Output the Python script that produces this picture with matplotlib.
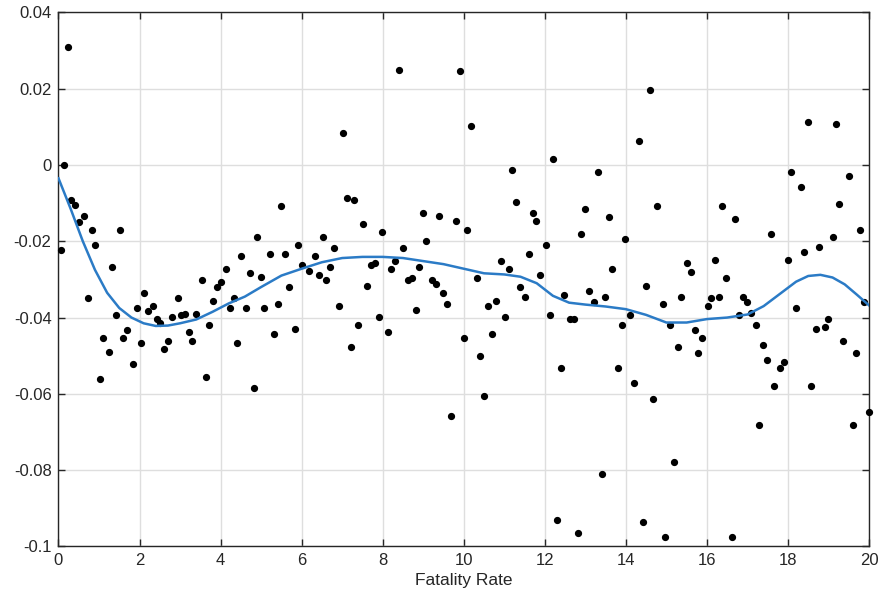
import matplotlib.pyplot as plt

# -------------------------
# Residual scatter
# -------------------------
fatality_rate = [
    0.23, 0.14, 0.31, 0.41, 0.64, 0.51, 0.83, 1.51, 0.91, 0.05,
    4.91, 4.50, 1.33, 4.13, 4.73,
    0.72, 2.10, 1.93, 2.34, 2.20, 1.42, 2.43, 2.51, 2.94, 2.80,
    3.02, 3.12, 3.40, 3.54, 3.91, 4.00, 3.81, 4.32, 4.23, 4.63,
    5.00, 5.08, 1.11, 1.70, 1.60, 1.24, 2.03, 1.84, 1.02, 2.71,
    2.61, 3.21, 3.30, 3.72, 3.63, 4.40, 4.82,
    8.39, 9.91, 7.02, 5.50, 7.12, 7.30, 8.99, 9.40, 9.81, 10.09,
    7.52, 7.98, 6.52, 5.92, 5.23, 5.60, 6.80, 6.34, 9.08, 8.49,
    8.31, 6.00, 6.70, 7.72, 7.80, 6.19, 8.20, 8.90, 6.42,
    6.60, 5.68, 7.62, 5.41, 6.93, 5.32, 5.83, 7.90, 7.40, 8.12,
    7.21, 8.62, 8.72, 9.21, 9.32, 9.50, 9.59, 8.82, 9.68, 10.00,
    14.59, 10.19, 14.32, 12.20, 11.20, 13.31, 11.29, 14.78, 11.70, 11.79,
    12.99, 13.58, 12.89, 13.99, 12.02, 11.62, 10.93, 11.11, 11.89, 13.67,
    10.33, 11.39, 11.52, 12.48, 13.08, 13.49, 13.21, 14.50, 14.91, 10.80,
    10.60, 11.01, 12.12, 12.61, 12.71, 14.09, 13.91, 10.70, 10.41, 12.39,
    13.81, 14.19, 10.51, 14.68, 13.40, 12.30, 12.81, 14.42, 14.96,
    18.49, 19.18, 18.07, 19.50, 18.31, 16.38, 16.70, 19.27, 17.58, 19.78,
    19.10, 18.76, 18.40, 17.99, 16.19, 15.51, 15.60,
    16.46, 15.37, 16.11, 16.29, 16.02, 16.89, 16.98, 16.80, 17.08, 18.19,
    19.88, 15.09, 17.20, 15.70, 15.88, 15.28, 15.78, 17.39, 17.49, 17.81,
    17.90, 17.66, 18.68, 18.91, 18.99, 19.37, 19.68, 18.58, 19.60, 20.00,
    17.29, 15.20, 16.61,
]

residual = [
    0.0309, 0.0000, -0.0092, -0.0106, -0.0135, -0.0150, -0.0170, -0.0170, -0.0209, -0.0224,
    -0.0190, -0.0238, -0.0267, -0.0273, -0.0284,
    -0.0350, -0.0336, -0.0375, -0.0369, -0.0384, -0.0394, -0.0404, -0.0415, -0.0350, -0.0399,
    -0.0393, -0.0390, -0.0390, -0.0301, -0.0321, -0.0307, -0.0356, -0.0350, -0.0375, -0.0375,
    -0.0293, -0.0375, -0.0453, -0.0433, -0.0453, -0.0491, -0.0467, -0.0522, -0.0560, -0.0462,
    -0.0482, -0.0438, -0.0462, -0.0419, -0.0555, -0.0467, -0.0585,
    0.0249, 0.0245, 0.0084, -0.0107, -0.0087, -0.0092, -0.0127, -0.0135, -0.0146, -0.0170,
    -0.0155, -0.0175, -0.0190, -0.0209, -0.0233, -0.0233, -0.0218, -0.0238, -0.0199, -0.0218,
    -0.0252, -0.0262, -0.0267, -0.0262, -0.0258, -0.0277, -0.0273, -0.0267, -0.0288,
    -0.0301, -0.0321, -0.0316, -0.0364, -0.0370, -0.0443, -0.0429, -0.0399, -0.0419, -0.0438,
    -0.0477, -0.0301, -0.0297, -0.0301, -0.0311, -0.0336, -0.0364, -0.0380, -0.0658, -0.0453,
    0.0196, 0.0103, 0.0064, 0.0016, -0.0014, -0.0018, -0.0097, -0.0107, -0.0127, -0.0146,
    -0.0116, -0.0136, -0.0180, -0.0195, -0.0209, -0.0233, -0.0252, -0.0273, -0.0288, -0.0273,
    -0.0297, -0.0321, -0.0345, -0.0341, -0.0331, -0.0345, -0.0360, -0.0316, -0.0364, -0.0356,
    -0.0370, -0.0399, -0.0394, -0.0404, -0.0404, -0.0394, -0.0419, -0.0443, -0.0501, -0.0531,
    -0.0531, -0.0571, -0.0605, -0.0614, -0.0809, -0.0931, -0.0965, -0.0936, -0.0976,
    0.0113, 0.0108, -0.0018, -0.0029, -0.0058, -0.0107, -0.0141, -0.0102, -0.0180, -0.0170,
    -0.0190, -0.0214, -0.0229, -0.0248, -0.0248, -0.0258, -0.0280,
    -0.0297, -0.0345, -0.0350, -0.0345, -0.0370, -0.0345, -0.0360, -0.0394, -0.0389, -0.0375,
    -0.0360, -0.0419, -0.0419, -0.0433, -0.0453, -0.0477, -0.0492, -0.0473, -0.0511, -0.0531,
    -0.0516, -0.0580, -0.0429, -0.0424, -0.0404, -0.0462, -0.0492, -0.0580, -0.0682, -0.0648,
    -0.0682, -0.0779, -0.0975,
]

# -------------------------
# Smoothed trend
# -------------------------
trend_x = [
    0.0, 0.3, 0.6, 0.9, 1.2, 1.5, 1.8, 2.1, 2.4, 2.7,
    3.0, 3.4, 3.8, 4.2, 4.6, 5.0, 5.5, 6.0, 6.5, 7.0,
    7.5, 8.0, 8.5, 9.0, 9.5, 10.0, 10.5, 11.0, 11.4, 11.8,
    12.2, 12.6, 13.0, 13.5, 14.0, 14.5, 15.0, 15.5, 16.0, 16.5,
    17.0, 17.4, 17.8, 18.2, 18.5, 18.8, 19.1, 19.4, 19.7, 20.0,
]

trend_y = [
    -0.0035, -0.0115, -0.0200, -0.0275, -0.0335, -0.0375, -0.0400, -0.0415, -0.0422, -0.0421,
    -0.0415, -0.0405, -0.0385, -0.0363, -0.0345, -0.0320, -0.0290, -0.0272, -0.0255, -0.0244,
    -0.0241, -0.0241, -0.0244, -0.0252, -0.0260, -0.0272, -0.0284, -0.0287, -0.0293, -0.0310,
    -0.0343, -0.0361, -0.0366, -0.0371, -0.0378, -0.0393, -0.0413, -0.0413, -0.0404, -0.0400,
    -0.0392, -0.0370, -0.0338, -0.0306, -0.0291, -0.0288, -0.0295, -0.0313, -0.0340, -0.0368,
]

y_ticks = [0.04, 0.02, 0, -0.02, -0.04, -0.06, -0.08, -0.1]
y_tick_labels = ["0.04", "0.02", "0", "-0.02", "-0.04", "-0.06", "-0.08", "-0.1"]
x_ticks = [0, 2, 4, 6, 8, 10, 12, 14, 16, 18, 20]

text_color = "#262626"
plt.rcParams["font.family"] = ["Liberation Sans", "DejaVu Sans"]

fig = plt.figure(figsize=(8.81, 6.01), dpi=100)
ax = fig.add_axes([0.0664, 0.0907, 0.92, 0.8888])

ax.plot(fatality_rate, residual, linestyle="none", marker="o", markersize=4.2,
        color="black", clip_on=False, zorder=3)
ax.plot(trend_x, trend_y, color="#2b7bc6", linewidth=1.8, zorder=4)

ax.set_xlim(0, 20)
ax.set_ylim(-0.1, 0.04)
ax.set_xticks(x_ticks)
ax.set_xticklabels([str(t) for t in x_ticks])
ax.set_yticks(y_ticks)
ax.set_yticklabels(y_tick_labels)

ax.grid(True, color="#dedede", linewidth=1.0)
ax.set_axisbelow(True)
ax.tick_params(direction="in", length=5, width=1, top=True, right=True,
               labelsize=12, colors=text_color, pad=5)
for spine in ax.spines.values():
    spine.set_color(text_color)
    spine.set_linewidth(1.0)

ax.set_xlabel("Fatality Rate", fontsize=12.5, color=text_color, labelpad=3)

fig.savefig("out.png", dpi=100)
